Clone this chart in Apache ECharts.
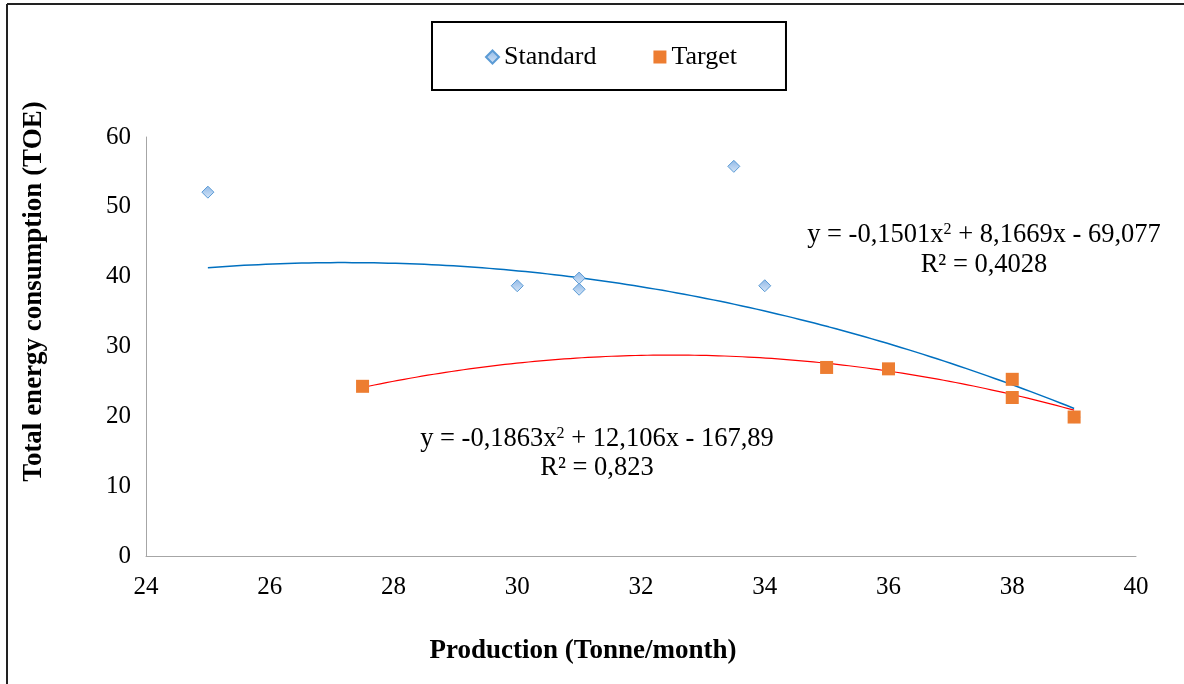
<!DOCTYPE html>
<html>
<head>
<meta charset="utf-8">
<script src="https://cdn.jsdelivr.net/npm/echarts@6/dist/echarts.min.js"></script>
<style>
html,body{margin:0;padding:0;background:#fff;}
#chart{width:1184px;height:684px;}
</style>
</head>
<body>
<div id="chart"></div>
<script>
// ---- data ----
const standardX = [25, 30, 31, 31, 33.5, 34, 39];
const standardY = [52.1, 38.7, 39.8, 38.2, 55.8, 38.7, 19.9];
const targetX = [27.5, 35, 36, 38, 38, 39];
const targetY = [24.3, 27.0, 26.8, 25.3, 22.7, 19.9];
// trendline coefficients [a, b, c] for y = a x^2 + b x + c (as printed on chart)
const standardTrend = [-0.1501, 8.1669, -69.077];
const targetTrend = [-0.1863, 12.106, -167.89];
const xTicks = [24, 26, 28, 30, 32, 34, 36, 38, 40];
const yTicks = [0, 10, 20, 30, 40, 50, 60];

const FONT = '"Liberation Serif", "Times New Roman", serif';

function pairs(xs, ys){ return xs.map((x,i)=>[x, ys[i]]); }
function trend(coef, x0, x1){
  const out = [];
  const n = 120;
  for(let i=0;i<=n;i++){
    const x = x0 + (x1-x0)*i/n;
    out.push([x, coef[0]*x*x + coef[1]*x + coef[2]]);
  }
  return out;
}

const richEq = {
  n: {fontFamily: FONT, fontSize: 26.5, fill: '#000', color: '#000'},
  s: {fontFamily: FONT, fontSize: 16, fill: '#000', color: '#000', verticalAlign: 'top', padding: [0,0,10,0]}
};

const chart = echarts.init(document.getElementById('chart'));
const option = {
  backgroundColor: '#fff',
  animation: false,
  grid: {left: 146, right: 48, top: 137, bottom: 128},
  legend: {
    data: ['Standard', 'Target'],
    left: 432, top: 22,
    padding: [22, 49, 20, 53],
    borderColor: '#000', borderWidth: 2,
    itemGap: 57,
    itemWidth: 13, itemHeight: 13,
    textStyle: {fontFamily: FONT, fontSize: 26, color: '#000'}
  },
  xAxis: {
    type: 'value', min: 24, max: 40, interval: 2,
    axisLine: {lineStyle: {color: '#a6a6a6', width: 1}},
    axisTick: {show: false},
    splitLine: {show: false},
    axisLabel: {fontFamily: FONT, fontSize: 25, color: '#000', margin: 19},
    name: 'Production (Tonne/month)',
    nameLocation: 'middle', nameGap: 82,
    nameTextStyle: {fontFamily: FONT, fontSize: 27, fontWeight: 'bold', color: '#000', padding: [0, 116, 0, 0]}
  },
  yAxis: {
    type: 'value', min: 0, max: 60, interval: 10,
    axisLine: {show: true, lineStyle: {color: '#a6a6a6', width: 1}},
    axisTick: {show: false},
    splitLine: {show: false},
    axisLabel: {fontFamily: FONT, fontSize: 25, color: '#000', margin: 15},
    name: 'Total energy consumption (TOE)',
    nameLocation: 'middle', nameGap: 98,
    nameTextStyle: {fontFamily: FONT, fontSize: 27, fontWeight: 'bold', color: '#000', padding: [0, 0, 0, 110]}
  },
  series: [
    {
      name: 'StandardTrend', type: 'line', data: trend(standardTrend, 25, 39),
      showSymbol: false, symbol: 'none', smooth: false,
      lineStyle: {color: '#0070c0', width: 1.5}, z: 2, silent: true
    },
    {
      name: 'TargetTrend', type: 'line', data: trend(targetTrend, 27.5, 39),
      showSymbol: false, symbol: 'none', smooth: false,
      lineStyle: {color: '#ff0000', width: 1.2}, z: 2, silent: true
    },
    {
      name: 'Standard', type: 'scatter', data: pairs(standardX, standardY),
      symbol: 'diamond', symbolSize: 12,
      itemStyle: {
        color: {type:'linear', x:0, y:0, x2:0, y2:1, colorStops:[{offset:0,color:'#8fb8e6'},{offset:1,color:'#d6e6f8'}]},
        borderColor: '#5b9bd5', borderWidth: 1, opacity: 1
      },
      z: 3
    },
    {
      name: 'Target', type: 'scatter', data: pairs(targetX, targetY),
      symbol: 'rect', symbolSize: 13,
      itemStyle: {color: '#ed7d31', opacity: 1},
      z: 4
    }
  ],
  graphic: [
    {type: 'line', shape: {x1: 7, y1: 4, x2: 1184, y2: 4}, style: {stroke: '#222', lineWidth: 2}},
    {type: 'line', shape: {x1: 7, y1: 4, x2: 7, y2: 684}, style: {stroke: '#222', lineWidth: 2}},
    {
      type: 'text', x: 984, y: 235,
      style: {rich: richEq, text: '{n|y = -0,1501x}{s|2}{n| + 8,1669x - 69,077}', align: 'center', verticalAlign: 'middle'}
    },
    {
      type: 'text', x: 984, y: 265,
      style: {text: 'R² = 0,4028', font: '26.5px ' + FONT, fill: '#000', align: 'center', verticalAlign: 'middle'}
    },
    {
      type: 'text', x: 597, y: 439,
      style: {rich: richEq, text: '{n|y = -0,1863x}{s|2}{n| + 12,106x - 167,89}', align: 'center', verticalAlign: 'middle'}
    },
    {
      type: 'text', x: 597, y: 468,
      style: {text: 'R² = 0,823', font: '26.5px ' + FONT, fill: '#000', align: 'center', verticalAlign: 'middle'}
    }
  ]
};
chart.setOption(option);
</script>
</body>
</html>
